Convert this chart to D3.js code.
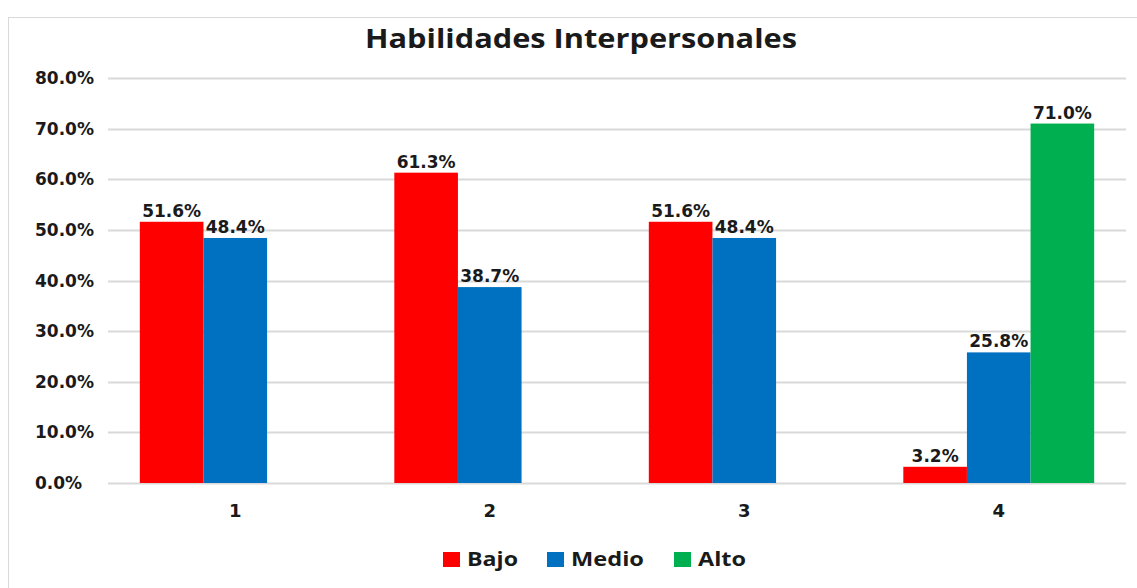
<!DOCTYPE html>
<html>
<head>
<meta charset="utf-8">
<script src="https://cdn.jsdelivr.net/npm/d3@7"></script>
<style>
  body { margin: 0; background: #fff; }
  svg text { fill: #1a1a1a; }
</style>
</head>
<body>
<svg id="chart"></svg>
<script>
//------ Données ------
var categories = ["1", "2", "3", "4"];
var series = ["Bajo", "Medio", "Alto"];
var bajo = [0.516, 0.613, 0.516, 0.032];
var medio = [0.484, 0.387, 0.484, 0.258];
var alto = [0, 0, 0, 0.710];
var yTicks = [0, 0.1, 0.2, 0.3, 0.4, 0.5, 0.6, 0.7, 0.8];
var colors = ["#ff0000", "#0070c0", "#00b050"];

//taille du cadre
var width = 1137, height = 588;
var margin = {left: 108, right: 11, top: 78, bottom: 105};

var svg = d3.select("#chart")
    .attr("width", width)
    .attr("height", height);

// cadre gris
svg.append("rect")
    .attr("x", 8.5).attr("y", 17.5)
    .attr("width", 1140).attr("height", 600)
    .attr("fill", "none").attr("stroke", "#d9d9d9");

// titre
svg.append("text")
    .attr("x", 581).attr("y", 48)
    .attr("text-anchor", "middle")
    .attr("font-family", "Open Sans")
    .attr("font-weight", "bold")
    .attr("font-size", 27)
    .attr("textLength", 432)
    .attr("lengthAdjust", "spacingAndGlyphs")
    .text("Habilidades Interpersonales");

// échelles
var x0 = d3.scaleBand()
    .domain(categories)
    .range([margin.left, width - margin.right]);

var bw = x0.bandwidth();
var x1 = d3.scaleBand()
    .domain(series)
    .range([bw * 0.125, bw * 0.875]);

var y = d3.scaleLinear()
    .domain([0, 0.8])
    .range([height - margin.bottom, margin.top]);

// grille + étiquettes Y
var fmt = d3.format(".1%");
var grid = svg.append("g");
grid.selectAll("line")
    .data(yTicks)
    .enter()
    .append("line")
    .attr("x1", margin.left).attr("x2", width - margin.right)
    .attr("y1", d => Math.round(y(d)) + 0.5)
    .attr("y2", d => Math.round(y(d)) + 0.5)
    .attr("stroke", "#d9d9d9")
    .attr("stroke-width", 2);

grid.selectAll("text")
    .data(yTicks)
    .enter()
    .append("text")
    .attr("x", 35)
    .attr("y", d => y(d) + 6)
    .attr("font-family", "DejaVu Sans")
    .attr("font-weight", "bold")
    .attr("font-size", 17)
    .text(d => fmt(d));

// barres
var rows = categories.map((c, i) => ({cat: c, vals: [bajo[i], medio[i], alto[i]]}));

var groups = svg.selectAll("g.cat")
    .data(rows)
    .enter()
    .append("g")
    .attr("class", "cat")
    .attr("transform", d => "translate(" + x0(d.cat) + ",0)");

groups.selectAll("rect")
    .data(d => d.vals.map((v, j) => ({s: series[j], v: v, j: j})).filter(e => e.v > 0))
    .enter()
    .append("rect")
    .attr("x", d => x1(d.s))
    .attr("y", d => y(d.v))
    .attr("width", x1.bandwidth())
    .attr("height", d => y(0) - y(d.v))
    .attr("fill", d => colors[d.j]);

groups.selectAll("text.val")
    .data(d => d.vals.map((v, j) => ({s: series[j], v: v, j: j})).filter(e => e.v > 0))
    .enter()
    .append("text")
    .attr("class", "val")
    .attr("x", d => x1(d.s) + x1.bandwidth() / 2)
    .attr("y", d => y(d.v) - 5)
    .attr("text-anchor", "middle")
    .attr("font-family", "DejaVu Sans")
    .attr("font-weight", "bold")
    .attr("font-size", 17)
    .text(d => fmt(d.v));

// étiquettes X
svg.selectAll("text.xlab")
    .data(categories)
    .enter()
    .append("text")
    .attr("class", "xlab")
    .attr("x", d => x0(d) + bw / 2)
    .attr("y", 517)
    .attr("text-anchor", "middle")
    .attr("font-family", "DejaVu Sans")
    .attr("font-weight", "bold")
    .attr("font-size", 18)
    .text(d => d);

// légende
var legendX = [443, 547, 674];
var legendW = [51, 73, 48];
var legend = svg.selectAll("g.leg")
    .data(series)
    .enter()
    .append("g")
    .attr("class", "leg")
    .attr("transform", (d, i) => "translate(" + legendX[i] + ",552)");

legend.append("rect")
    .attr("width", 17).attr("height", 15)
    .attr("fill", (d, i) => colors[i]);

legend.append("text")
    .attr("x", 24).attr("y", 14)
    .attr("font-family", "Open Sans")
    .attr("font-weight", "bold")
    .attr("font-size", 19)
    .attr("textLength", (d, i) => legendW[i])
    .attr("lengthAdjust", "spacingAndGlyphs")
    .text(d => d);
</script>
</body>
</html>
